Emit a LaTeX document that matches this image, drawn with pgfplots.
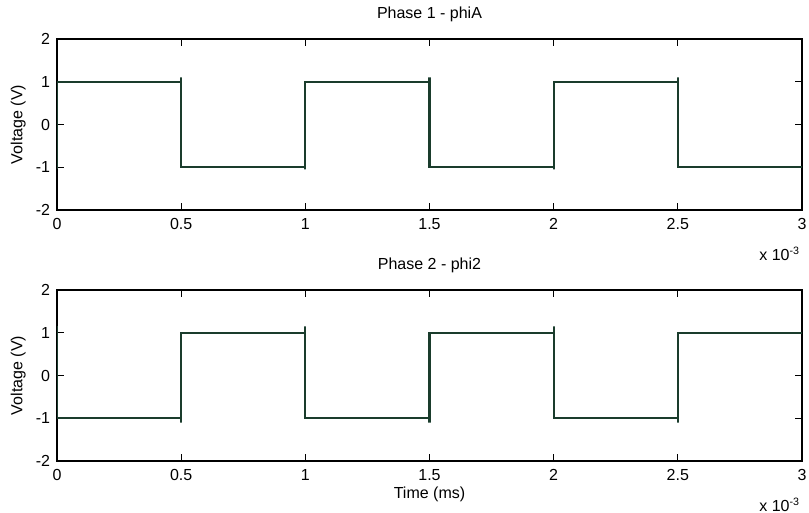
\documentclass[border=0pt]{standalone}
\usepackage{fontspec}
\setmainfont{Liberation Sans}
\usepackage{pgfplots}
\pgfplotsset{compat=1.18}

\definecolor{wave}{RGB}{26,60,44}
\newcommand\mfont{\fontsize{12}{14}\selectfont}

\pgfplotsset{
  phase/.style={
    scale only axis,
    width=558.75pt, height=128.25pt,
    xmin=0, xmax=0.003, ymin=-2, ymax=2,
    xtick={0,0.0005,0.001,0.0015,0.002,0.0025,0.003},
    ytick={-2,-1,0,1,2},
    scaled x ticks=base 10:3,
    xtick scale label code/.code={x 10\textsuperscript{##1}},
    every x tick scale label/.style={at={(rel axis cs:1,0)}, anchor=base east,
      yshift=-32pt, xshift=-1.5pt, inner sep=0pt},
    /pgf/number format/assume math mode=true,
    tick align=inside, tick pos=both,
    major tick length=5pt,
    axis line style={line width=0.8pt},
    every tick/.style={black, line width=0.6pt},
    xticklabel style={inner sep=0pt, yshift=-6pt},
    yticklabel style={inner sep=0pt, xshift=-5pt},
    ylabel={Voltage (V)},
    ylabel style={at={(axis description cs:-0.052,0.5)}, anchor=center, rotate=0},
    title style={at={(0.5,1)}, anchor=base, yshift=9pt, inner sep=0pt},
  },
  wavestyle/.style={color=wave, line width=1.7pt, mark=none},
}

\begin{document}
\begin{tikzpicture}[font=\mfont]
\path[use as bounding box] (0,0) rectangle (606.75pt,384.75pt);

% Phase 1
\begin{axis}[phase, at={(42.75pt,227.25pt)}, anchor=south west,
  title={Phase 1 - phiA}]
\addplot[wavestyle] coordinates {
  (0,-1.05) (0,1) (0.0005,1) (0.0005,1.1) (0.0005,-1)
  (0.001,-1) (0.001,-1.05) (0.001,1) (0.0015,1) (0.0015,1.1) (0.0015,-1)
  (0.002,-1) (0.002,-1.05) (0.002,1) (0.0025,1) (0.0025,1.1) (0.0025,-1)
  (0.003,-1)
};
\end{axis}

% Phase 2
\begin{axis}[phase, at={(42.75pt,39pt)}, anchor=south west,
  title={Phase 2 - phi2},
  xlabel={Time (ms)},
  xlabel style={at={(axis description cs:0.5,0)}, anchor=base, yshift=-28.5pt, inner sep=0pt}]
\addplot[wavestyle] coordinates {
  (0,1.15) (0,-1) (0.0005,-1) (0.0005,-1.1) (0.0005,1)
  (0.001,1) (0.001,1.15) (0.001,-1) (0.0015,-1) (0.0015,-1.1) (0.0015,1)
  (0.002,1) (0.002,1.15) (0.002,-1) (0.0025,-1) (0.0025,-1.1) (0.0025,1)
  (0.003,1)
};
\end{axis}
\end{tikzpicture}
\end{document}
